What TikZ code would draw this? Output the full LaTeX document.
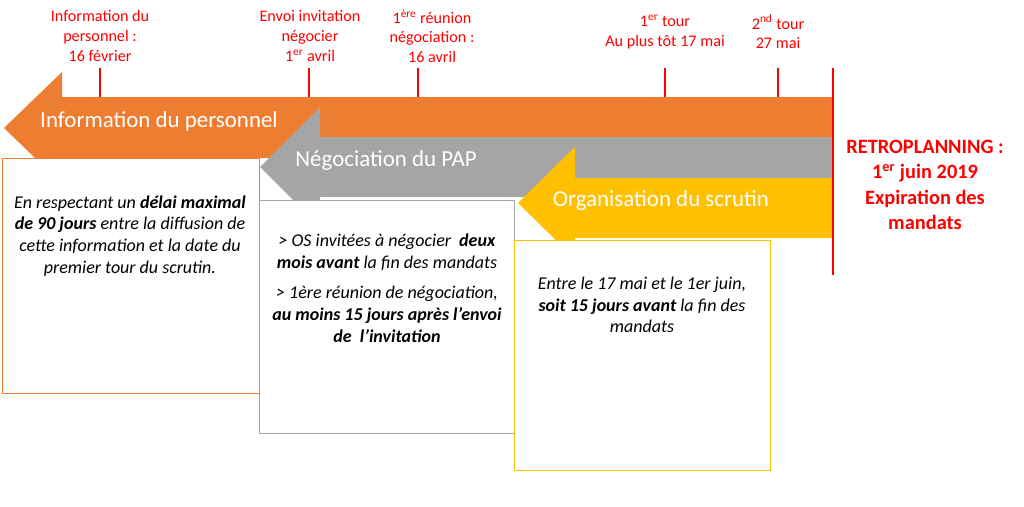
\documentclass[tikz,border=0pt]{standalone}
\usepackage{fontspec}
\setmainfont{Carlito}
\definecolor{orangearrow}{HTML}{ED7D31}
\definecolor{grayarrow}{HTML}{A5A5A5}
\definecolor{yellowarrow}{HTML}{FFC000}
\definecolor{redtext}{HTML}{FF0000}
\begin{document}
\begin{tikzpicture}[x=0.025cm,y=-0.025cm]
	\tikzstyle{datelabel}=[inner sep=0pt,align=center,text=redtext,font=\fontsize{11.5}{14}\selectfont]
	\tikzstyle{arrowlabel}=[inner sep=0pt,text=white,font=\fontsize{16.3}{18}\selectfont]
	\tikzstyle{note}=[inner sep=0pt,align=center,font=\fontsize{12.8}{15.5}\selectfont\itshape]
	\tikzstyle{tick}=[-,draw=redtext,line width=1.2pt]
	\useasboundingbox (0,0) rectangle (1024,506);
		% timeline arrows
		\fill [orangearrow] (4,128) -- (62,72) -- (62,97) -- (833,97) -- (833,158) -- (62,158) -- (62,184) -- cycle;
		\node [style=arrowlabel] (info) at (159,121) {Information du personnel};
		\draw [draw=orangearrow, fill=white] (2,158) rectangle (259,393);
		\node [style=note] (infonote) at (130,236) {En respectant un \textbf{délai maximal}\\\textbf{de 90 jours} entre la diffusion de\\cette information et la date du\\premier tour du scrutin.};

		\fill [grayarrow] (260,167) -- (320,107) -- (320,137) -- (833,137) -- (833,197) -- (320,197) -- (320,227) -- cycle;
		\node [style=arrowlabel] (nego) at (386,161) {Négociation du PAP};
		\draw [draw=grayarrow, fill=white] (259,200) rectangle (514,433);
		\node [style=note] (negonote) at (387,288) {> OS invitées à négocier \ \textbf{deux}\\\textbf{mois avant} la fin des mandats\\[6pt]
			> 1ère réunion de négociation,\\\textbf{au moins 15 jours après l’envoi}\\\textbf{de \ l'invitation}};

		\fill [yellowarrow] (518,203) -- (575,147) -- (575,178) -- (833,178) -- (833,238) -- (575,238) -- (575,259) -- cycle;
		\node [style=arrowlabel] (orga) at (661,201) {Organisation du scrutin};
		\draw [draw=yellowarrow, fill=white] (514,240) rectangle (770,470);
		\node [style=note] (organote) at (642,305) {Entre le 17 mai et le 1er juin,\\\textbf{soit 15 jours avant} la fin des\\mandats};

		% dates
		\coordinate (end0) at (833,68);
		\coordinate (end1) at (833,275);
		\draw [style=tick] (end0) to (end1);
		\foreach \x/\n in {100/t0,309/t1,418/t2,665/t3,778/t4}{
			\coordinate (\n a) at (\x,68);
			\coordinate (\n b) at (\x,97);
			\draw [style=tick] (\n a) to (\n b);
		}
		\node [style=datelabel] (d0) at (100,36) {Information du\\personnel :\\16 février};
		\node [style=datelabel] (d1) at (310,36) {Envoi invitation\\négocier\\1\textsuperscript{er} avril};
		\node [style=datelabel] (d2) at (432,36) {1\textsuperscript{ère} réunion\\négociation :\\16 avril};
		\node [style=datelabel] (d3) at (665,32) {1\textsuperscript{er} tour\\Au plus tôt 17 mai};
		\node [style=datelabel] (d4) at (778,32) {2\textsuperscript{nd} tour\\27 mai};
		\node [inner sep=0pt,align=center,text=redtext,font=\fontsize{14.5}{18}\selectfont\bfseries] (retro) at (925,185) {RETROPLANNING :\\1\textsuperscript{er} juin 2019\\Expiration des\\mandats};

\end{tikzpicture}
\end{document}
